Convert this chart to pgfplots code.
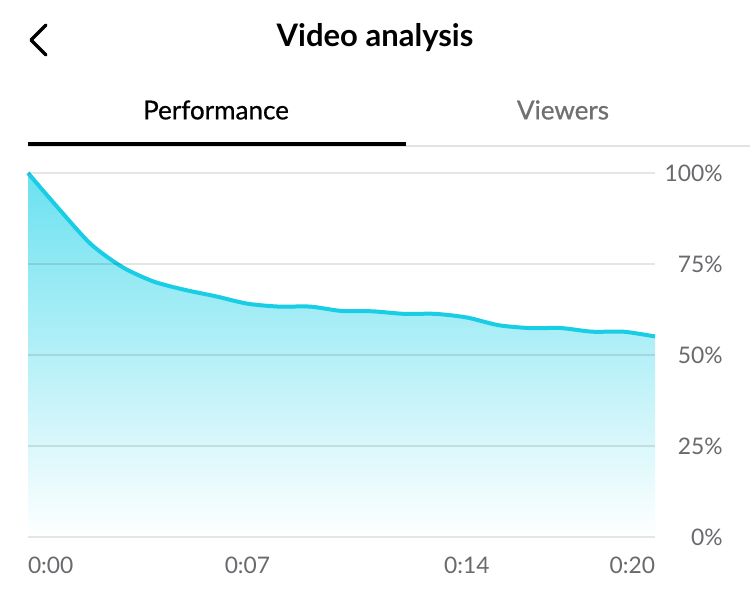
\documentclass[border=0pt]{standalone}
\usepackage{pgfplots}
\pgfplotsset{compat=1.18}
\usepackage{fontspec}
\setmainfont{Lato}
\newfontfamily\medfont[FakeBold=0.7]{Lato}
\definecolor{lineC}{HTML}{19CDE5}
\definecolor{fillTop}{HTML}{6BE1F0}
\definecolor{tickC}{HTML}{6A6A6E}
\definecolor{tabGray}{HTML}{707070}
\definecolor{sepGray}{HTML}{E3E3E3}
\begin{document}
\begin{tikzpicture}
\useasboundingbox[fill=white] (0,0) rectangle (375pt,300pt);
% header
\draw[line width=1.6pt, line cap=round, line join=round] (23pt,287.5pt) -- (15.5pt,280pt) -- (23pt,272.5pt);
\node[font=\fontsize{15.5}{18}\selectfont\bfseries] at (187.5pt,281pt) {Video analysis};
\node[font=\fontsize{13}{15}\selectfont\medfont] at (108pt,245pt) {Performance};
\node[font=\fontsize{13}{15}\selectfont\medfont, text=tabGray] at (281.5pt,245pt) {Viewers};
\draw[sepGray, line width=0.7pt] (14pt,226.9pt) -- (375pt,226.9pt);
\draw[black, line width=2.3pt] (14pt,228pt) -- (203pt,228pt);
\begin{axis}[
  at={(14pt,31.5pt)}, anchor=south west,
  scale only axis, width=313.5pt, height=182pt,
  xmin=0, xmax=20, ymin=0, ymax=100,
  clip=false,
  axis line style={draw=none},
  tick style={draw=none},
  axis on top,
  ymajorgrids,
  major grid style={draw=black, opacity=0.1, line width=0.8pt},
  major tick length=0pt,
  ytick={0,25,50,75,100},
  yticklabels={0\%,25\%,50\%,75\%,100\%},
  yticklabel pos=right,
  yticklabel style={anchor=east, inner sep=0pt, xshift=34pt, text=tickC, font=\fontsize{11.4}{13}\selectfont},
  xtick={0,7,14,20},
  xticklabels={\makebox[0pt][l]{0:00},0:07,0:14,\makebox[0pt][r]{0:20}},
  xticklabel style={anchor=north, inner sep=0pt, yshift=-10pt, text=tickC, font=\fontsize{11.4}{13}\selectfont},
]
\addplot[smooth, tension=0.45, draw=none, top color=fillTop, bottom color=white] table {
x y
0 100
1 90
2 80.5
3 74.2
4 70.2
5 67.9
6 66.1
7 64.1
8 63.3
9 63.3
10 62.1
11 62.0
12 61.3
13 61.3
14 60.3
15 58.2
16 57.4
17 57.4
18 56.4
19 56.4
20 55.1
} \closedcycle;
\addplot[smooth, tension=0.45, lineC, line width=2pt] table {
x y
0 100
1 90
2 80.5
3 74.2
4 70.2
5 67.9
6 66.1
7 64.1
8 63.3
9 63.3
10 62.1
11 62.0
12 61.3
13 61.3
14 60.3
15 58.2
16 57.4
17 57.4
18 56.4
19 56.4
20 55.1
};
\end{axis}
\end{tikzpicture}
\end{document}
